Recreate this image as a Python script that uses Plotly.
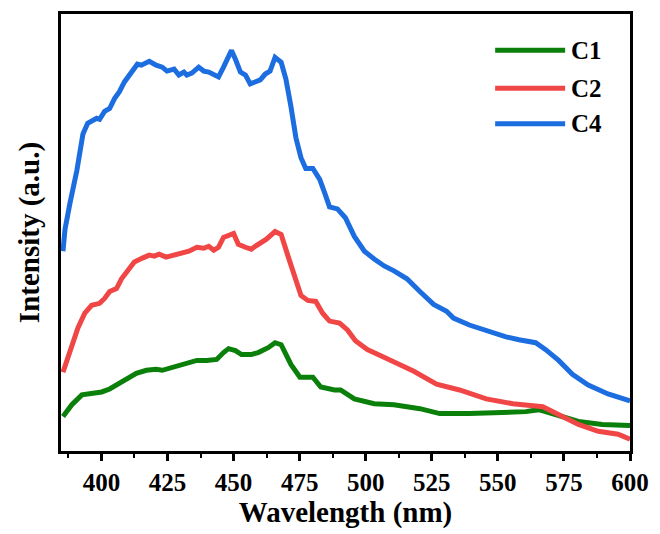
import plotly.graph_objects as go

# Wavelength (nm) and intensity (a.u.)
c4_x = [385.45, 386.2, 388.1, 390.7, 393.0, 394.8, 398.2, 399.3, 401.2, 403.1, 404.95, 406.8, 408.7,
        411.3, 413.6, 415.1, 418.1, 420.7, 423.0, 424.8, 427.5, 429.3, 431.2, 432.3, 434.2, 436.8,
        438.7, 440.6, 442.5, 444.3, 446.2, 449.2, 450.7, 452.6, 454.5, 456.3, 460.1, 462.0, 463.8,
        465.7, 468.0, 469.8, 471.7, 473.6, 475.5, 477.3, 480.0, 482.6, 484.5, 486.3, 489.3, 492.3,
        495.7, 499.5, 503.2, 507.0, 510.7, 515.6, 520.5, 525.7, 530.6, 533.2, 539.2, 545.6, 553.1,
        558.0, 564.3, 568.1, 573.0, 578.2, 584.2, 591.7, 598.8, 600.0]
c4_y = [203, 225, 252, 285, 322, 333, 338, 337, 345, 348, 358, 365, 375,
        385, 393, 392, 396, 392, 390, 386, 388, 382, 385, 382, 384, 390,
        386, 385, 382, 380, 390, 407, 398, 385, 382, 373, 377, 383, 386,
        400, 395, 378, 350, 318, 298, 287, 287, 276, 262, 248, 246, 237,
        218, 203, 195, 188, 183, 175, 162, 149, 142, 135, 128, 122, 116,
        113, 110, 103, 92, 78, 67, 58, 52, 51]

c2_x = [385.45, 388.1, 391.1, 393.7, 396.3, 399.3, 401.2, 403.1, 405.7, 407.6, 409.8, 412.45, 415.5,
        418.1, 420.0, 421.8, 424.45, 427.5, 430.45, 433.1, 436.1, 438.7, 440.6, 442.5, 444.3, 446.2,
        450.0, 451.8, 454.5, 456.7, 458.2, 460.5, 462.3, 465.7, 468.0, 470.6, 473.2, 475.5, 478.1,
        481.1, 483.7, 486.3, 490.1, 493.1, 496.1, 500.6, 505.5, 510.7, 518.2, 526.8, 535.5, 545.6,
        555.7, 567.0, 573.0, 580.5, 588.0, 595.5, 600.0]
c2_y = [80, 102, 125, 140, 148, 150, 155, 162, 165, 175, 183, 192, 196,
        199, 198, 200, 197, 199, 200, 203, 207, 206, 208, 204, 207, 217,
        221, 210, 207, 205, 208, 212, 215, 223, 220, 198, 175, 158, 153,
        152, 140, 132, 130, 123, 112, 103, 97, 91, 81, 68, 62, 53,
        48, 45, 37, 27, 20, 17, 12]

c1_x = [385.45, 388.8, 392.6, 396.3, 400.1, 403.1, 406.1, 409.45, 413.2, 417.0, 420.7, 423.0, 425.6,
        429.3, 432.3, 436.1, 439.8, 443.6, 446.2, 448.1, 450.7, 453.0, 456.7, 459.3, 463.1, 465.7,
        468.0, 471.7, 475.1, 480.0, 483.0, 488.2, 490.5, 495.7, 503.2, 510.7, 520.5, 528.0, 539.2,
        550.5, 560.6, 565.5, 573.0, 580.5, 589.5, 598.8, 600.0]
c1_y = [35, 47, 57, 59, 60, 63, 68, 73, 79, 82, 83, 82, 84,
        86, 88, 92, 92, 93, 100, 104, 102, 98, 98, 100, 105, 110,
        108, 88, 75, 75, 65, 62, 62, 53, 48, 47, 43, 38, 38,
        39, 40, 42, 36, 30, 27, 26, 26]

series_names = ["C1", "C2", "C4"]
series_colors = ["#0a7f0a", "#f04646", "#1c6de0"]
x_ticks = [400, 425, 450, 475, 500, 525, 550, 575, 600]

FONT = "Liberation Serif"

fig = go.Figure()
for name, xs, ys, col in zip(series_names, [c1_x, c2_x, c4_x], [c1_y, c2_y, c4_y], series_colors):
    fig.add_trace(go.Scatter(x=xs, y=ys, mode="lines", name=name,
                             line=dict(color=col, width=5), showlegend=False))

# custom legend (long line samples)
leg_y = [0.917, 0.83, 0.749]
for name, col, yy in zip(series_names, series_colors, leg_y):
    fig.add_shape(type="line", xref="paper", yref="paper", x0=0.763, x1=0.886, y0=yy, y1=yy,
                  line=dict(color=col, width=5))
    fig.add_annotation(xref="paper", yref="paper", x=0.893, y=yy, xanchor="left", yanchor="middle",
                       text=name, showarrow=False,
                       font=dict(family=FONT, size=25, color="black", weight="bold"))

fig.update_layout(
    width=660, height=534,
    margin=dict(l=61, r=25, t=11, b=79),
    paper_bgcolor="white", plot_bgcolor="white",
    font=dict(family=FONT, color="black", weight="bold"),
    xaxis=dict(range=[384.7, 600], tickvals=x_ticks, ticks="outside", ticklen=7, tickwidth=2.5,
               tickcolor="black", showline=True, linewidth=3, linecolor="black", mirror=True,
               showgrid=False, zeroline=False,
               tickfont=dict(family=FONT, size=25, color="black", weight="bold"),
               minor=dict(dtick=12.5, tick0=387.5, ticks="outside", ticklen=4, tickwidth=2, tickcolor="black"),
               title=dict(text="Wavelength (nm)", standoff=7,
                          font=dict(family=FONT, size=29, color="black", weight="bold"))),
    yaxis=dict(range=[0, 444], showticklabels=False, ticks="", showline=True, linewidth=3,
               linecolor="black", mirror=True, showgrid=False, zeroline=False,
               title=dict(text="Intensity (a.u.)", standoff=10,
                          font=dict(family=FONT, size=29, color="black", weight="bold"))),
)

fig.write_html("out.html")
